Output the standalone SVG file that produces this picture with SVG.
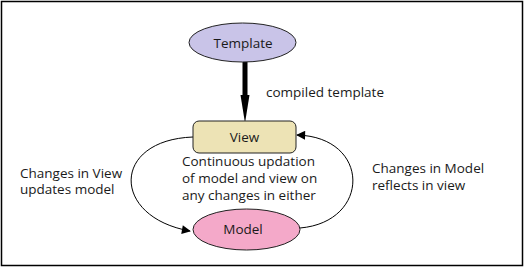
<svg xmlns="http://www.w3.org/2000/svg" width="525" height="269" viewBox="0 0 525 269">
<defs>
<style>
text{font-family:"Open Sans","Liberation Sans",sans-serif;font-size:13.5px;fill:#1a1a1a}
.c{text-anchor:middle}
.node{stroke:#222;stroke-width:1}
.arc{fill:none;stroke:#000;stroke-width:1}
</style>
<marker id="ah" viewBox="0 0 10 10" refX="9" refY="5" markerWidth="10" markerHeight="9" markerUnits="userSpaceOnUse" orient="auto">
<path d="M0,0 L10,5 L0,10 z" fill="#000"/>
</marker>
</defs>
<rect x="1.5" y="1.5" width="521" height="264" fill="#fff" stroke="#000" stroke-width="1.5"/>
<g id="connectors">
<g id="compile-arrow">
<rect x="242.5" y="62" width="5" height="34" fill="#000"/>
<polygon points="240.5,95 249.5,95 245,123" fill="#000"/>
</g>
<path class="arc" d="M193,137 C111,140 111,217 190,231" marker-end="url(#ah)"/>
<path class="arc" d="M300,228 C371,222 371,137 297,135" marker-end="url(#ah)"/>
</g>
<g id="template">
<ellipse class="node" cx="242.5" cy="42.5" rx="53.5" ry="19.5" fill="#c9c4e8"/>
<text class="c" x="243" y="47.5">Template</text>
</g>
<g id="view">
<rect class="node" x="193" y="121" width="103" height="32" rx="6" fill="#ede3b5"/>
<text class="c" x="244.5" y="142">View</text>
</g>
<g id="model">
<ellipse class="node" cx="246.5" cy="229.5" rx="53.5" ry="20.5" fill="#f4a9c9"/>
<text class="c" x="243" y="233.5">Model</text>
</g>
<g id="labels">
<text x="266" y="96.5">compiled template</text>
<text x="182" y="166">Continuous updation</text>
<text x="182" y="183">of model and view on</text>
<text x="182" y="200">any changes in either</text>
<text x="20" y="177.5">Changes in View</text>
<text x="20" y="194">updates model</text>
<text x="372" y="173">Changes in Model</text>
<text x="372" y="189.5">reflects in view</text>
</g>
</svg>
